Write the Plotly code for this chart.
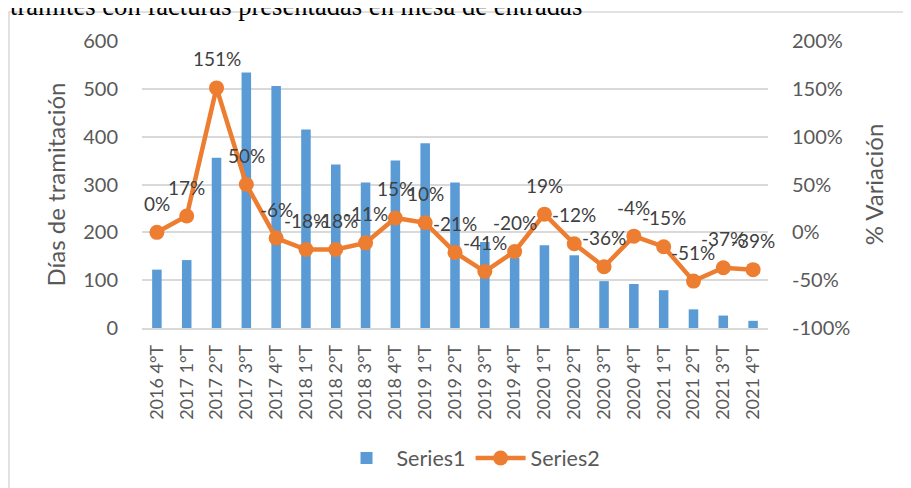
import plotly.graph_objects as go

categories = ["2016 4°T", "2017 1°T", "2017 2°T", "2017 3°T", "2017 4°T",
              "2018 1°T", "2018 2°T", "2018 3°T", "2018 4°T",
              "2019 1°T", "2019 2°T", "2019 3°T", "2019 4°T",
              "2020 1°T", "2020 2°T", "2020 3°T", "2020 4°T",
              "2021 1°T", "2021 2°T", "2021 3°T", "2021 4°T"]
series1 = [122, 142, 356, 534, 506, 415, 342, 304, 350, 386, 304,
           180, 147, 173, 152, 98, 92, 79, 39, 26, 15]
series2 = [0.00, 0.17, 1.51, 0.50, -0.06, -0.18, -0.18, -0.11, 0.15, 0.10, -0.21,
           -0.41, -0.20, 0.19, -0.12, -0.36, -0.04, -0.15, -0.51, -0.37, -0.39]
left_ticks = [0, 100, 200, 300, 400, 500, 600]
right_ticks = [-1.0, -0.5, 0.0, 0.5, 1.0, 1.5, 2.0]
right_ticktext = ["-100%", "-50%", "0%", "50%", "100%", "150%", "200%"]

FONT = "Lato"
GRAY = "#595959"

fig = go.Figure()
fig.add_trace(go.Bar(x=categories, y=series1, name="Series1",
                     marker=dict(color="#5b9bd5", line=dict(width=0)), yaxis="y"))
fig.add_trace(go.Scatter(x=categories, y=series2, name="Series2", mode="lines+markers",
                         line=dict(color="#ed7d31", width=4.5),
                         marker=dict(color="#ed7d31", size=15), yaxis="y2"))

annotations = []
for c, v in zip(categories, series2):
    annotations.append(dict(x=c, y=v, xref="x", yref="y2", text=f"{round(v*100):.0f}%",
                            showarrow=False, yshift=29,
                            font=dict(family=FONT, size=19, color="#404040")))

# partially visible document text above the chart
annotations.append(dict(x=-0.2141, y=1.122, xref="paper", yref="paper", xanchor="left",
                        yanchor="middle", showarrow=False,
                        text="trámites con facturas presentadas en mesa de entradas",
                        font=dict(family="Liberation Serif", size=26.6, color="#000000")))

fig.update_layout(
    width=911, height=488,
    margin=dict(l=134, r=151, t=33, b=168, autoexpand=False),
    paper_bgcolor="white", plot_bgcolor="white",
    bargap=0.68,
    font=dict(family=FONT, color=GRAY),
    showlegend=True,
    legend=dict(orientation="h", x=0.5256, xanchor="center", y=-0.453, yanchor="middle",
                font=dict(family=FONT, size=21.5, color=GRAY), itemwidth=50,
                bgcolor="rgba(0,0,0,0)"),
    xaxis=dict(type="category", range=[-0.5, len(categories) - 0.5], tickangle=-90,
               showgrid=False, showline=True,
               linecolor="#d9d9d9", linewidth=1.5, ticks="", automargin=False,
               tickfont=dict(family=FONT, size=18, color=GRAY), ticklabelstandoff=8),
    yaxis=dict(range=[0, 600], tickvals=left_ticks, showgrid=True, gridcolor="#d9d9d9",
               gridwidth=1.5, zeroline=False, showline=False, ticks="", automargin=False,
               tickfont=dict(family=FONT, size=20, color=GRAY), ticklabelstandoff=23,
               title=dict(text="Días de tramitación", standoff=10,
                          font=dict(family=FONT, size=24, color=GRAY))),
    yaxis2=dict(range=[-1.0, 2.0], overlaying="y", side="right", tickvals=right_ticks,
                ticktext=right_ticktext, showgrid=False, zeroline=False, showline=False,
                ticks="", automargin=False, tickfont=dict(family=FONT, size=20, color=GRAY),
                ticklabelstandoff=23,
                title=dict(text="% Variación", standoff=16,
                           font=dict(family=FONT, size=24, color=GRAY))),
    annotations=annotations,
    shapes=[dict(type="rect", xref="paper", yref="paper", x0=-0.2125, x1=1.3,
                 y0=-0.7, y1=1.101, line=dict(color="#d9d9d9", width=1.5),
                 fillcolor="rgba(0,0,0,0)", layer="below")],
)

fig.write_html("out.html")
